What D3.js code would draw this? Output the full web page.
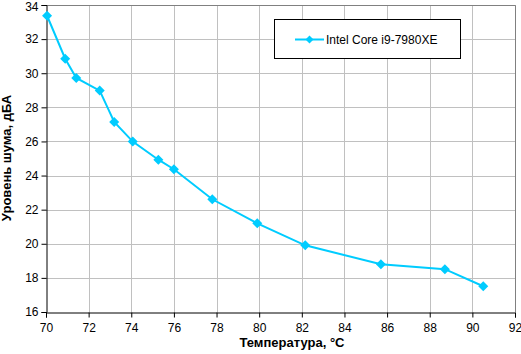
<!DOCTYPE html>
<html><head><meta charset="utf-8">
<script src="https://cdn.jsdelivr.net/npm/d3@7"></script>
<style>body{margin:0;background:#fff}svg{display:block}text{font-family:Arial,"Liberation Sans",sans-serif}</style>
</head><body>
<script>
const seriesName = "Intel Core i9-7980XE";
const temps = [70.05, 70.9, 71.42, 72.52, 73.2, 74.07, 75.27, 76.0, 77.8, 79.91, 82.16, 85.71, 88.71, 90.51];
const noise = [33.37, 30.85, 29.72, 28.98, 27.14, 25.99, 24.93, 24.37, 22.61, 21.2, 19.91, 18.8, 18.51, 17.51];
const xTicks = [70,72,74,76,78,80,82,84,86,88,90,92];
const yTicks = [16,18,20,22,24,26,28,30,32,34];
const xTitle = "Температура, °C";
const yTitle = "Уровень шума, дБА";

const W = 521, H = 354;
const L = 46, R = 515, T = 5, B = 312;
const color = "#00ccff";
const svg = d3.select("body").append("svg").attr("width", W).attr("height", H);
const x = d3.scaleLinear().domain([70, 92]).range([L, R]);
const y = d3.scaleLinear().domain([16, 34]).range([B, T]);

// grid
svg.append("g").selectAll("line").data(xTicks.slice(1)).join("line")
  .attr("x1", d => Math.round(x(d)) + 0.5).attr("x2", d => Math.round(x(d)) + 0.5)
  .attr("y1", T).attr("y2", B).attr("stroke", "#c0c0c0");
svg.append("g").selectAll("line").data(yTicks.slice(1)).join("line")
  .attr("y1", d => Math.round(y(d)) + 0.5).attr("y2", d => Math.round(y(d)) + 0.5)
  .attr("x1", L).attr("x2", R).attr("stroke", "#c0c0c0");
// top/right border
svg.append("path").attr("d", `M${L},${T+0.5}H${R+0.5}V${B}`).attr("fill", "none").attr("stroke", "#808080");

// axes
const xAxis = svg.append("g").attr("transform", `translate(0,${B + 0.5})`)
  .call(d3.axisBottom(x).tickValues(xTicks).tickSize(5).tickPadding(6).tickFormat(d3.format("d")));
const yAxis = svg.append("g").attr("transform", `translate(${L + 0.5},0)`)
  .call(d3.axisLeft(y).tickValues(yTicks).tickSize(5).tickPadding(3).tickFormat(d3.format("d")));
[xAxis, yAxis].forEach(g => {
  g.select(".domain").attr("stroke", "#000");
  g.selectAll(".tick line").attr("stroke", "#000");
  g.selectAll("text").attr("font-size", 12).attr("font-family", "Arial, 'Liberation Sans', sans-serif").attr("fill", "#000");
});
yAxis.selectAll(".tick text").filter(d => d === 34).attr("dy", "0.45em");

// line + markers
const pts = temps.map((t, i) => [t, noise[i]]);
svg.append("path").datum(pts)
  .attr("d", d3.line().x(d => x(d[0])).y(d => y(d[1])))
  .attr("fill", "none").attr("stroke", color).attr("stroke-width", 2);
const diamond = s => `M0,${-s}L${s},0L0,${s}L${-s},0Z`;
svg.append("g").selectAll("path").data(pts).join("path")
  .attr("transform", d => `translate(${x(d[0])},${y(d[1])})`)
  .attr("d", diamond(5)).attr("fill", color);

// titles
svg.append("text").attr("x", 292).attr("y", 347).attr("text-anchor", "middle")
  .attr("font-size", 13).attr("font-weight", "bold").text(xTitle);
svg.append("text").attr("transform", `translate(11,158) rotate(-90)`).attr("text-anchor", "middle")
  .attr("font-size", 13).attr("font-weight", "bold").text(yTitle);

// legend
const lg = svg.append("g");
lg.append("rect").attr("x", 274.5).attr("y", 19.5).attr("width", 186).attr("height", 39)
  .attr("fill", "#fff").attr("stroke", "#000");
lg.append("line").attr("x1", 295).attr("x2", 324).attr("y1", 39.5).attr("y2", 39.5)
  .attr("stroke", color).attr("stroke-width", 2);
lg.append("path").attr("transform", "translate(309.5,39.5)").attr("d", diamond(4)).attr("fill", color);
lg.append("text").attr("x", 326).attr("y", 44).attr("font-size", 12).text(seriesName);
</script>
</body></html>
